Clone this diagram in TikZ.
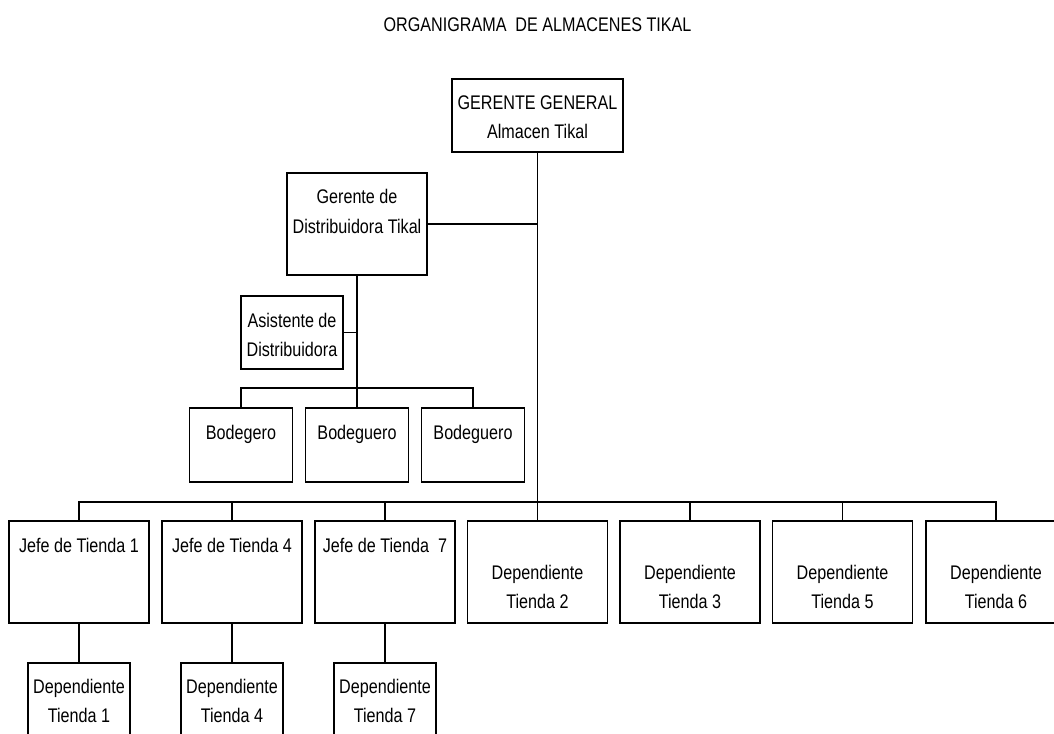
\documentclass[tikz,border=0pt]{standalone}
\usepackage{fontspec}
\setmainfont{Liberation Sans}[FakeStretch=0.82]
\begin{document}
\begin{tikzpicture}[x=1pt,y=-1pt,
  box/.style={draw, line width=1.2pt, inner sep=0pt, fill=white},
  rowbox/.style={box, minimum width=140pt, minimum height=102pt},
  lowbox/.style={box, minimum width=102pt, minimum height=100pt},
  bodbox/.style={box, minimum width=103pt, minimum height=74pt},
  txt/.style={font=\fontsize{19.7pt}{28.5pt}\selectfont, anchor=base, align=center, inner sep=0pt},
  link/.style={line width=1.2pt}]
\fill[white] (0,0) rectangle (1054,733);
\useasboundingbox (0,0) rectangle (1054,733);
\clip (0,0) rectangle (1054,733);

\node[txt] (title) at (537.5,32) {ORGANIGRAMA\ \ DE ALMACENES TIKAL};

% boxes
\node[box, minimum width=171pt, minimum height=73pt] (gg) at (537.5,115.5) {};
\node[box, minimum width=140pt, minimum height=102pt] (gd) at (357,224) {};
\node[box, minimum width=102pt, minimum height=73pt] (as) at (292,332.5) {};
\node[bodbox] (b1) at (241,445) {};
\node[bodbox] (b2) at (357,445) {};
\node[bodbox] (b3) at (473,445) {};

\node[rowbox] (j1) at (79,572) {};
\node[rowbox] (j4) at (232,572) {};
\node[rowbox] (j7) at (385,572) {};
\node[rowbox] (d2) at (537.5,572) {};
\node[rowbox] (d3) at (690,572) {};
\node[rowbox] (d5) at (842.5,572) {};
\node[rowbox] (d6) at (996,572) {};

\node[lowbox] (l1) at (79,713) {};
\node[lowbox] (l4) at (232,713) {};
\node[lowbox] (l7) at (385,713) {};

% texts (base anchor = baseline of last line)
\node[txt] (ggt) at (537.5,139) {GERENTE GENERAL\\[0.5pt]Almacen Tikal};
\node[txt] (gdt) at (357,233) {Gerente de\\[1.5pt]Distribuidora Tikal};
\node[txt] (ast) at (292,356) {Asistente de\\[0.5pt]Distribuidora};
\node[txt] (b1t) at (241,439) {Bodegero};
\node[txt] (b2t) at (357,439) {Bodeguero};
\node[txt] (b3t) at (473,439) {Bodeguero};
\node[txt] (j1t) at (79,552) {Jefe de Tienda 1};
\node[txt] (j4t) at (232,552) {Jefe de Tienda 4};
\node[txt] (j7t) at (385,552) {Jefe de Tienda\ \ 7};
\node[txt] (d2t) at (537.5,608) {Dependiente\\Tienda 2};
\node[txt] (d3t) at (690,608) {Dependiente\\Tienda 3};
\node[txt] (d5t) at (842.5,608) {Dependiente\\Tienda 5};
\node[txt] (d6t) at (996,608) {Dependiente\\Tienda 6};
\node[txt] (l1t) at (79,722) {Dependiente\\Tienda 1};
\node[txt] (l4t) at (232,722) {Dependiente\\Tienda 4};
\node[txt] (l7t) at (385,722) {Dependiente\\Tienda 7};

% connectors
\coordinate (bj) at (357,388);
\coordinate (mj) at (537.5,502);
\draw[link] (gg.south) -- (d2.north);
\draw[link] (gd.east) -- (gd.east -| gg.south);
\draw[link] (gd.south) -- (b2.north);
\draw[link] (as.east) -- (as.east -| gd.south);
\draw[link] (b1.north) |- (bj) -| (b3.north);
\draw[link] (j1.north) |- (mj) -| (d6.north);
\foreach \n in {j4,j7,d3,d5} \draw[link] (\n.north) -- (\n.north |- mj);
\draw[link] (j1.south) -- (l1.north);
\draw[link] (j4.south) -- (l4.north);
\draw[link] (j7.south) -- (l7.north);
\end{tikzpicture}
\end{document}
